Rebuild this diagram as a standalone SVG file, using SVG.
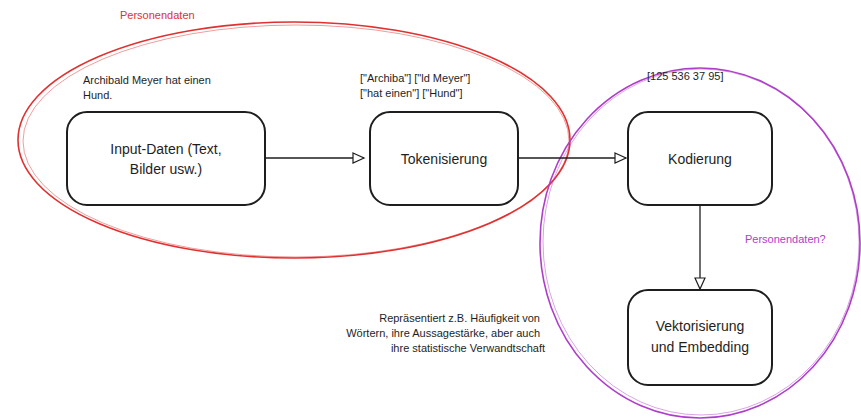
<svg xmlns="http://www.w3.org/2000/svg" width="861" height="420" viewBox="0 0 861 420">
<style>
.box{fill:#fff;stroke:#1e1e1e;stroke-width:2}
.t{font-family:"Liberation Sans",Arial,sans-serif;fill:#1e1e1e}
.lbl{font-size:14px;text-anchor:middle}
.sm{font-size:11px}
.con{stroke:#1e1e1e;stroke-width:1.3;fill:none}
</style>
<defs>
<marker id="ah" markerWidth="14" markerHeight="12" refX="12" refY="6" orient="auto" markerUnits="userSpaceOnUse">
<path d="M1,1 L12,6 L1,11 Z" fill="#fff" stroke="#1e1e1e" stroke-width="1.2"/>
</marker>
</defs>
<rect width="861" height="420" fill="#fff"/>
<g id="red-ellipse">
<ellipse cx="294" cy="140" rx="276" ry="118" fill="none" stroke="#e03131" stroke-width="1.6"/>
<ellipse cx="296" cy="141" rx="273" ry="116" fill="none" stroke="#e03131" stroke-width="0.8" opacity="0.6"/>
<text class="t" x="120" y="19" font-size="11" style="fill:#e03131">Personendaten</text>
</g>
<g id="purple-ellipse">
<ellipse cx="700" cy="243" rx="160" ry="175" fill="none" stroke="#ae3ec9" stroke-width="1.6"/>
<ellipse cx="701" cy="242" rx="158" ry="173" fill="none" stroke="#ae3ec9" stroke-width="0.8" opacity="0.6"/>
<text class="t" x="745" y="243" font-size="11" style="fill:#ae3ec9">Personendaten?</text>
</g>
<g id="connectors">
<line class="con" x1="266" y1="158" x2="364" y2="158" marker-end="url(#ah)"/>
<line class="con" x1="519" y1="158" x2="626" y2="158" marker-end="url(#ah)"/>
<line class="con" x1="700" y1="206" x2="700" y2="289" marker-end="url(#ah)"/>
</g>
<g id="input">
<rect class="box" x="67" y="112" width="198" height="93" rx="20"/>
<text class="t lbl" x="166" y="154">Input-Daten (Text,</text>
<text class="t lbl" x="166" y="174">Bilder usw.)</text>
</g>
<g id="tokenisierung">
<rect class="box" x="370" y="112" width="148" height="93" rx="20"/>
<text class="t lbl" x="444" y="164">Tokenisierung</text>
</g>
<g id="kodierung">
<rect class="box" x="628" y="112" width="144" height="93" rx="20"/>
<text class="t lbl" x="700" y="164">Kodierung</text>
</g>
<g id="vektorisierung">
<rect class="box" x="628" y="290" width="144" height="95" rx="20"/>
<text class="t lbl" x="700" y="331">Vektorisierung</text>
<text class="t lbl" x="700" y="352">und Embedding</text>
</g>
<g id="notes">
<text class="t sm" x="83" y="84">Archibald Meyer hat einen</text>
<text class="t sm" x="83" y="99">Hund.</text>
<text class="t sm" x="360" y="82">["Archiba"] ["ld Meyer"]</text>
<text class="t sm" x="360" y="97">["hat einen"] ["Hund"]</text>
<text class="t sm" x="647" y="80">[125 536 37 95]</text>
<text class="t sm" x="540" y="322" text-anchor="end">Repräsentiert z.B. Häufigkeit von</text>
<text class="t sm" x="540" y="337" text-anchor="end">Wörtern, ihre Aussagestärke, aber auch</text>
<text class="t sm" x="545" y="352" text-anchor="end">ihre statistische Verwandtschaft</text>
</g>
</svg>
